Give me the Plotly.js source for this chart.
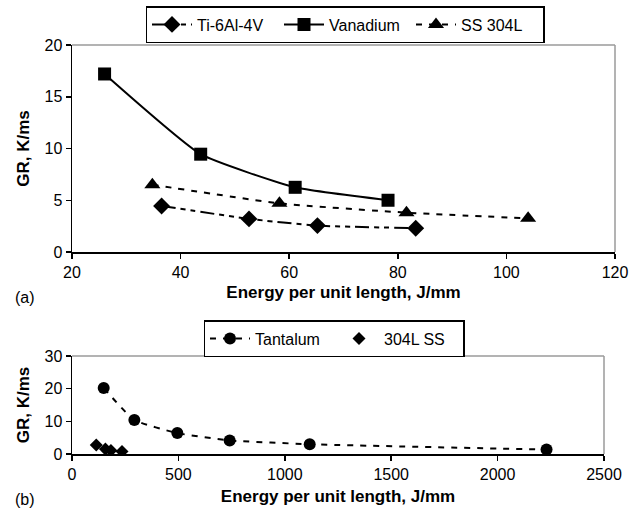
<!DOCTYPE html>
<html>
<head>
<meta charset="utf-8">
<script src="https://cdn.plot.ly/plotly-3.0.1.min.js"></script>
<style>
html,body{margin:0;padding:0;background:#fff;}
#chart{width:640px;height:516px;}
</style>
</head>
<body>
<div id="chart"></div>
<script>
// ---- Data: panel (a) ----
const tiX = [36.5, 52.6, 65.2, 83.3];
const tiY = [4.45, 3.2, 2.55, 2.3];
const vX = [26.0, 43.7, 61.1, 78.2];
const vY = [17.2, 9.45, 6.25, 5.0];
const ssX = [34.8, 58.2, 81.6, 104.0];
const ssY = [6.5, 4.7, 3.8, 3.25];
// ---- Data: panel (b) ----
const taX = [149, 293, 495, 741, 1117, 2230];
const taY = [20.2, 10.4, 6.4, 4.15, 3.0, 1.35];
const ss2X = [114, 157, 183, 235];
const ss2Y = [2.75, 1.5, 1.1, 0.8];

const seriesNames = ['Ti-6Al-4V', 'Vanadium', 'SS 304L', 'Tantalum', '304L SS'];
const xTitle = 'Energy per unit length, J/mm';
const yTitle = 'GR, K/ms';

const F = 'Liberation Sans, Arial, sans-serif';
const black = '#000';

const traces = [
  {x: tiX, y: tiY, name: seriesNames[0], type: 'scatter', mode: 'lines+markers',
   line: {color: black, width: 2, dash: '14px,5px,5px,5px,5px,5px', shape: 'spline', smoothing: 0.45},
   marker: {symbol: 'diamond', size: 13, color: black}, xaxis: 'x', yaxis: 'y', legend: 'legend'},
  {x: vX, y: vY, name: seriesNames[1], type: 'scatter', mode: 'lines+markers',
   line: {color: black, width: 2, shape: 'spline', smoothing: 0.45},
   marker: {symbol: 'square', size: 13, color: black}, xaxis: 'x', yaxis: 'y', legend: 'legend'},
  {x: ssX, y: ssY, name: seriesNames[2], type: 'scatter', mode: 'lines+markers',
   line: {color: black, width: 2, dash: '6px,7px', shape: 'spline', smoothing: 0.45},
   marker: {symbol: 'triangle-up', size: 14, color: black}, xaxis: 'x', yaxis: 'y', legend: 'legend'},
  {x: taX, y: taY, name: seriesNames[3], type: 'scatter', mode: 'lines+markers',
   line: {color: black, width: 2, dash: '6px,7px', shape: 'spline', smoothing: 0.45},
   marker: {symbol: 'circle', size: 12, color: black}, xaxis: 'x2', yaxis: 'y2', legend: 'legend2'},
  {x: ss2X, y: ss2Y, name: seriesNames[4], type: 'scatter', mode: 'markers',
   marker: {symbol: 'diamond', size: 10, color: black}, xaxis: 'x2', yaxis: 'y2', legend: 'legend2'}
];

const axisCommon = {
  showgrid: false, zeroline: false, showline: true, linecolor: black, linewidth: 1.5,
  ticks: 'outside', ticklen: 5, tickwidth: 1.5, tickcolor: black,
  tickfont: {family: F, size: 16, color: black}
};

const layout = {
  width: 640, height: 516,
  margin: {l: 0, r: 0, t: 0, b: 0},
  paper_bgcolor: '#fff', plot_bgcolor: '#fff',
  font: {family: F, color: black},
  showlegend: true,
  xaxis: Object.assign({}, axisCommon, {domain: [72/640, 615/640], range: [20, 120], dtick: 20, anchor: 'y',
    title: {text: '<b>' + xTitle + '</b>', font: {family: F, size: 17, color: black}, standoff: 6}}),
  yaxis: Object.assign({}, axisCommon, {domain: [1 - 252/516, 1 - 45/516], range: [0, 20], dtick: 5, anchor: 'x',
    title: {text: '<b>' + yTitle + '</b>', font: {family: F, size: 17, color: black}, standoff: 10}}),
  xaxis2: Object.assign({}, axisCommon, {domain: [72/640, 604/640], range: [0, 2500], dtick: 500, anchor: 'y2',
    title: {text: '<b>' + xTitle + '</b>', font: {family: F, size: 17, color: black}, standoff: 8}}),
  yaxis2: Object.assign({}, axisCommon, {domain: [1 - 454/516, 1 - 356/516], range: [0, 30], dtick: 10, anchor: 'x2',
    title: {text: '<b>' + yTitle + '</b>', font: {family: F, size: 17, color: black}, standoff: 10}}),
  legend: {orientation: 'h', x: 345/640, xanchor: 'center', y: 1 - 6/516, yanchor: 'top',
    bordercolor: black, borderwidth: 1.5, bgcolor: '#fff', font: {family: F, size: 16, color: black},
    itemwidth: 40, entrywidth: 77, entrywidthmode: 'pixels', tracegroupgap: 0},
  legend2: {orientation: 'h', x: 334/640, xanchor: 'center', y: 1 - 320/516, yanchor: 'top',
    bordercolor: black, borderwidth: 1.5, bgcolor: '#fff', font: {family: F, size: 16, color: black},
    itemwidth: 40, entrywidth: 74, entrywidthmode: 'pixels'},
  shapes: [
    {type: 'line', xref: 'x domain', yref: 'y domain', x0: 0, x1: 1, y0: 1, y1: 1, line: {color: '#9a9a9a', width: 1.5}},
    {type: 'line', xref: 'x domain', yref: 'y domain', x0: 1, x1: 1, y0: 0, y1: 1, line: {color: '#9a9a9a', width: 1.5}},
    {type: 'line', xref: 'x2 domain', yref: 'y2 domain', x0: 0, x1: 1, y0: 1, y1: 1, line: {color: '#9a9a9a', width: 1.5}},
    {type: 'line', xref: 'x2 domain', yref: 'y2 domain', x0: 1, x1: 1, y0: 0, y1: 1, line: {color: '#9a9a9a', width: 1.5}}
  ],
  annotations: [
    {text: '(a)', xref: 'paper', yref: 'paper', x: 13/640, y: 1 - 297/516, xanchor: 'left', yanchor: 'middle',
     showarrow: false, font: {family: F, size: 16, color: black}},
    {text: '(b)', xref: 'paper', yref: 'paper', x: 13/640, y: 1 - 499/516, xanchor: 'left', yanchor: 'middle',
     showarrow: false, font: {family: F, size: 16, color: black}}
  ]
};

Plotly.newPlot('chart', traces, layout, {displayModeBar: false, staticPlot: true});
</script>
</body>
</html>
